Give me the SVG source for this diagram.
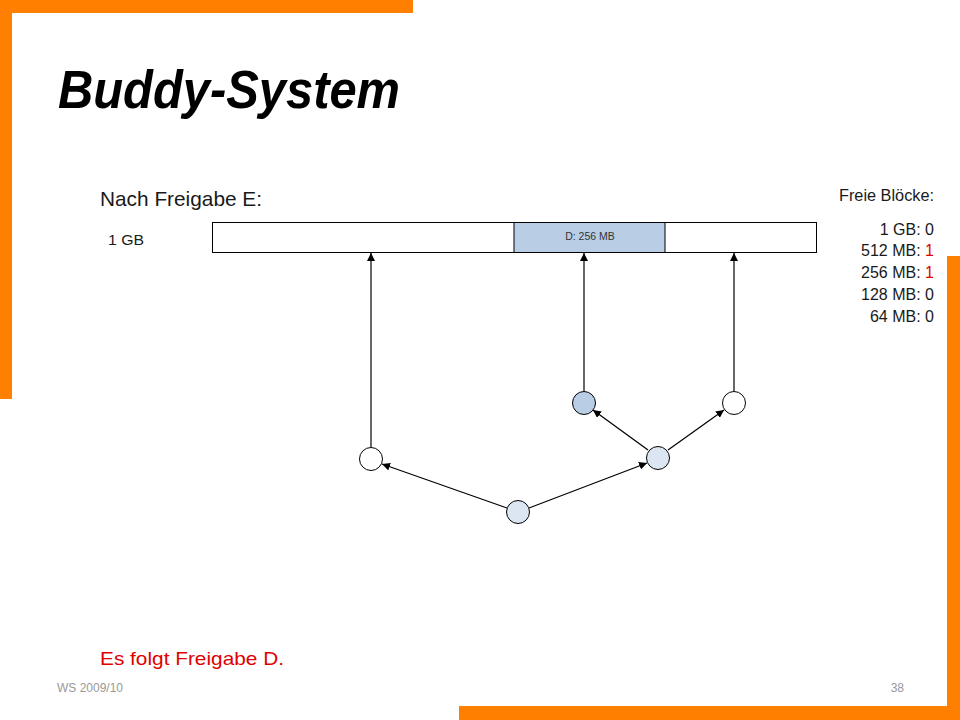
<svg xmlns="http://www.w3.org/2000/svg" width="960" height="720" viewBox="0 0 960 720">
<defs>
<style>
.f{font-family:"Liberation Sans",Arial,sans-serif;}
.fr{fill:#FF8000;}
.node{stroke:#000;stroke-width:1;}
.edge{stroke:#000;stroke-width:1.2;fill:none;marker-end:url(#ah);}
.lbl{font-size:16px;fill:#1a1a1a;text-anchor:end;}
.red{fill:#E00000;}
</style>
<marker id="ah" viewBox="0 0 10 10" refX="10" refY="5" markerWidth="8" markerHeight="8" markerUnits="userSpaceOnUse" orient="auto">
<path d="M0,0 L10,5 L0,10 z" fill="#000"/>
</marker>
</defs>
<rect width="960" height="720" fill="#fff"/>
<g id="frame">
<rect class="fr" x="0" y="0" width="413" height="13"/>
<rect class="fr" x="0" y="0" width="12" height="399"/>
<rect class="fr" x="947" y="256" width="13" height="464"/>
<rect class="fr" x="459" y="706" width="501" height="14"/>
</g>
<text class="f" x="58" y="108" font-size="53" font-weight="bold" font-style="italic" textLength="342" lengthAdjust="spacingAndGlyphs">Buddy-System</text>
<text class="f" x="100" y="206" font-size="21" fill="#1a1a1a" textLength="162" lengthAdjust="spacingAndGlyphs">Nach Freigabe E:</text>
<text class="f" x="108" y="245" font-size="15" fill="#1a1a1a" textLength="36" lengthAdjust="spacingAndGlyphs">1 GB</text>
<g id="memory">
<rect x="212.5" y="222.5" width="604" height="30" fill="#fff" stroke="#000" stroke-width="1"/>
<rect x="514" y="222.5" width="151" height="30" fill="#B9CDE5" stroke="#000" stroke-width="1"/>
<text class="f" x="590" y="240" font-size="10.5" fill="#333" text-anchor="middle">D: 256 MB</text>
</g>
<g id="legend" class="f">
<text class="lbl" x="934" y="201" textLength="95" lengthAdjust="spacingAndGlyphs">Freie Blöcke:</text>
<text class="lbl" x="934" y="235">1 GB: 0</text>
<text class="lbl" x="934" y="256">512 MB: <tspan class="red">1</tspan></text>
<text class="lbl" x="934" y="278">256 MB: <tspan class="red">1</tspan></text>
<text class="lbl" x="934" y="300">128 MB: 0</text>
<text class="lbl" x="934" y="322">64 MB: 0</text>
</g>
<g id="connectors">
<line class="edge" x1="371" y1="447" x2="371" y2="253"/>
<line class="edge" x1="584" y1="391" x2="584" y2="253"/>
<line class="edge" x1="734" y1="391" x2="734" y2="253"/>
<line class="edge" x1="507" y1="508" x2="382" y2="464"/>
<line class="edge" x1="529" y1="508" x2="647" y2="463"/>
<line class="edge" x1="648" y1="450" x2="593" y2="410"/>
<line class="edge" x1="668" y1="450" x2="724" y2="410"/>
</g>
<g id="n-root"><circle class="node" cx="518" cy="512" r="11.5" fill="#DCE6F2"/></g>
<g id="n-left"><circle class="node" cx="371" cy="459" r="11.5" fill="#fff"/></g>
<g id="n-right"><circle class="node" cx="658" cy="458" r="11.5" fill="#DCE6F2"/></g>
<g id="n-d"><circle class="node" cx="584" cy="403" r="11.5" fill="#B9CDE5"/></g>
<g id="n-free"><circle class="node" cx="734" cy="403" r="11.5" fill="#fff"/></g>
<text class="f" x="100" y="665" font-size="19" fill="#E00000" textLength="184" lengthAdjust="spacingAndGlyphs">Es folgt Freigabe D.</text>
<text class="f" x="57" y="692" font-size="12" fill="#999">WS 2009/10</text>
<text class="f" x="904" y="692" font-size="12" fill="#999" text-anchor="end">38</text>
</svg>
